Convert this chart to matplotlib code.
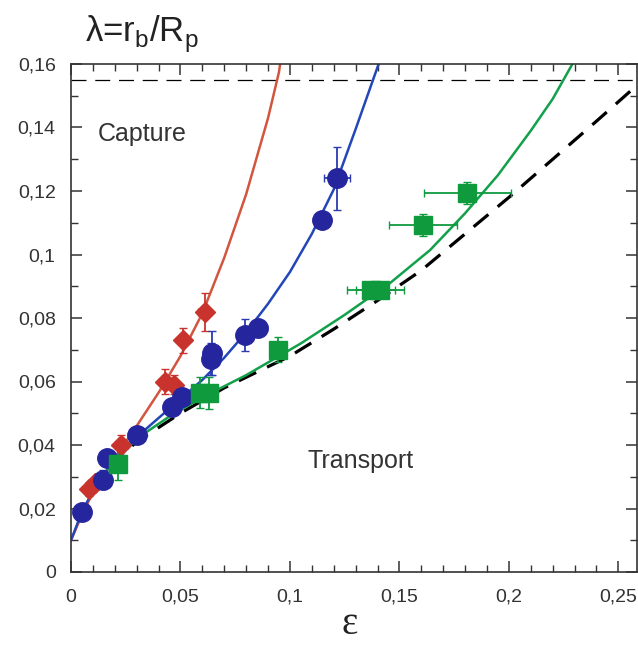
import numpy as np
import matplotlib
matplotlib.use('Agg')
import matplotlib.pyplot as plt
from matplotlib.ticker import MultipleLocator, FuncFormatter

plt.rcParams['font.family'] = ['Liberation Sans', 'DejaVu Sans']
plt.rcParams['mathtext.fontset'] = 'custom'
plt.rcParams['mathtext.rm'] = 'Liberation Sans'

# measured points (red diamonds, blue circles, green squares)
red_x = [0.008, 0.011, 0.023, 0.043, 0.047, 0.051, 0.061]
red_y = [0.026, 0.028, 0.040, 0.060, 0.059, 0.073, 0.082]
red_xerr = [0.002, 0.002, 0.003, 0.003, 0.003, 0.0, 0.003]
red_yerr = [0.002, 0.002, 0.003, 0.004, 0.003, 0.004, 0.006]

blue_x = [0.005, 0.0146, 0.0164, 0.030, 0.046, 0.0506, 0.064, 0.0645, 0.0795, 0.0855, 0.1146, 0.1215]
blue_y = [0.019, 0.029, 0.036, 0.043, 0.052, 0.055, 0.067, 0.069, 0.0746, 0.077, 0.111, 0.124]
blue_xerr = [0, 0.002, 0, 0, 0, 0, 0, 0, 0.003, 0.004, 0, 0.006]
blue_yerr = [0, 0.003, 0, 0, 0, 0, 0.005, 0.007, 0.005, 0, 0, 0.010]

green_x = [0.0215, 0.059, 0.063, 0.0945, 0.137, 0.141, 0.1607, 0.181]
green_y = [0.034, 0.0565, 0.0563, 0.070, 0.0888, 0.0888, 0.1093, 0.1194]
green_xerr = [0, 0, 0, 0, 0.011, 0.011, 0.0155, 0.020]
green_yerr = [0.005, 0.005, 0.005, 0.004, 0, 0, 0.0035, 0.0035]

# fitted curves
red_cx = [0, 0.005, 0.01, 0.02, 0.03, 0.04, 0.05, 0.06, 0.07, 0.08, 0.09, 0.095, 0.0955]
red_cy = [0.010, 0.018, 0.025, 0.036, 0.046, 0.0565, 0.068, 0.0815, 0.099, 0.119, 0.143, 0.1575, 0.160]

blue_cx = [0, 0.005, 0.01, 0.02, 0.03, 0.04, 0.05, 0.06, 0.07, 0.08, 0.09, 0.1, 0.11, 0.12, 0.13, 0.1405]
blue_cy = [0.010, 0.019, 0.0255, 0.0355, 0.0425, 0.0485, 0.0545, 0.0605, 0.0675, 0.0755, 0.0845, 0.0945,
           0.1065, 0.1205, 0.1395, 0.160]

green_cx = [0.015, 0.03, 0.045, 0.06, 0.08, 0.095, 0.105, 0.125, 0.1457, 0.164, 0.18, 0.195, 0.21, 0.22, 0.229]
green_cy = [0.031, 0.042, 0.049, 0.055, 0.062, 0.068, 0.072, 0.081, 0.091, 0.1014, 0.113, 0.125, 0.139,
            0.149, 0.160]

dash_cx = [0.003, 0.01, 0.02, 0.03, 0.05, 0.07, 0.1, 0.12, 0.14, 0.16, 0.18, 0.2, 0.22, 0.24, 0.258]
dash_cy = [0.016, 0.025, 0.035, 0.041, 0.050, 0.058, 0.068, 0.0765, 0.0855, 0.095, 0.1065, 0.118, 0.130,
           0.142, 0.153]

lam_max = 0.155

fig = plt.figure(figsize=(6.38, 6.51), dpi=100)
ax = fig.add_axes([71/638, 79/651, 566/638, 508/651])

ax.axhline(lam_max, color='black', lw=0.9, dashes=(12, 7), zorder=1)
ax.plot(dash_cx, dash_cy, color='black', lw=2.3, dashes=(6, 3.8), zorder=2)
ax.plot(red_cx, red_cy, color='#d2553f', lw=1.8, zorder=2)
ax.plot(blue_cx, blue_cy, color='#2447b8', lw=1.8, zorder=2)
ax.plot(green_cx, green_cy, color='#12a04a', lw=1.8, zorder=2)

ax.errorbar(red_x, red_y, xerr=red_xerr, yerr=red_yerr, fmt='D', ms=10,
            color='#c8332e', mec='#c8332e', ecolor='#c8332e', elinewidth=1.3, capsize=3, zorder=3)
ax.errorbar(blue_x, blue_y, xerr=blue_xerr, yerr=blue_yerr, fmt='o', ms=14,
            color='#25259e', mec='#25259e', ecolor='#2a3bb0', elinewidth=1.3, capsize=3, zorder=3)
ax.errorbar(green_x, green_y, xerr=green_xerr, yerr=green_yerr, fmt='s', ms=13,
            color='#0f9a3e', mec='#0f9a3e', ecolor='#0f9a3e', elinewidth=1.3, capsize=3, zorder=3)

ax.set_xlim(0, 0.2585)
ax.set_ylim(0, 0.16)

ax.xaxis.set_major_locator(MultipleLocator(0.05))
ax.xaxis.set_minor_locator(MultipleLocator(0.01))
ax.yaxis.set_major_locator(MultipleLocator(0.02))
ax.yaxis.set_minor_locator(MultipleLocator(0.01))

def comma(v, pos):
    s = ('%.2f' % v).rstrip('0').rstrip('.')
    return s.replace('.', ',')

ax.xaxis.set_major_formatter(FuncFormatter(comma))
ax.yaxis.set_major_formatter(FuncFormatter(comma))

ax.tick_params(which='both', direction='in', top=True, right=True, labelsize=14, colors='#333333')
ax.tick_params(which='major', length=8, width=1.1)
ax.tick_params(which='minor', length=5, width=1.0)
ax.tick_params(axis='x', which='major', pad=12)
ax.tick_params(axis='y', which='major', pad=11)
for sp in ax.spines.values():
    sp.set_linewidth(1.2)
    sp.set_color('#333333')

ax.text(0.012, 0.138, 'Capture', fontsize=18, color='#333333', va='center')
ax.text(0.108, 0.035, 'Transport', fontsize=18, color='#333333', va='center')

fig.text(85/638, 1 - 42/651, r'λ=r$_\mathrm{b}$/R$_\mathrm{p}$', fontsize=25, color='#222222', va='baseline')
fig.text(350/638, 1 - 625/651, 'ε', fontsize=28, family='Liberation Serif', color='#222222',
         ha='center', va='center')

fig.savefig('out.png', dpi=100)
